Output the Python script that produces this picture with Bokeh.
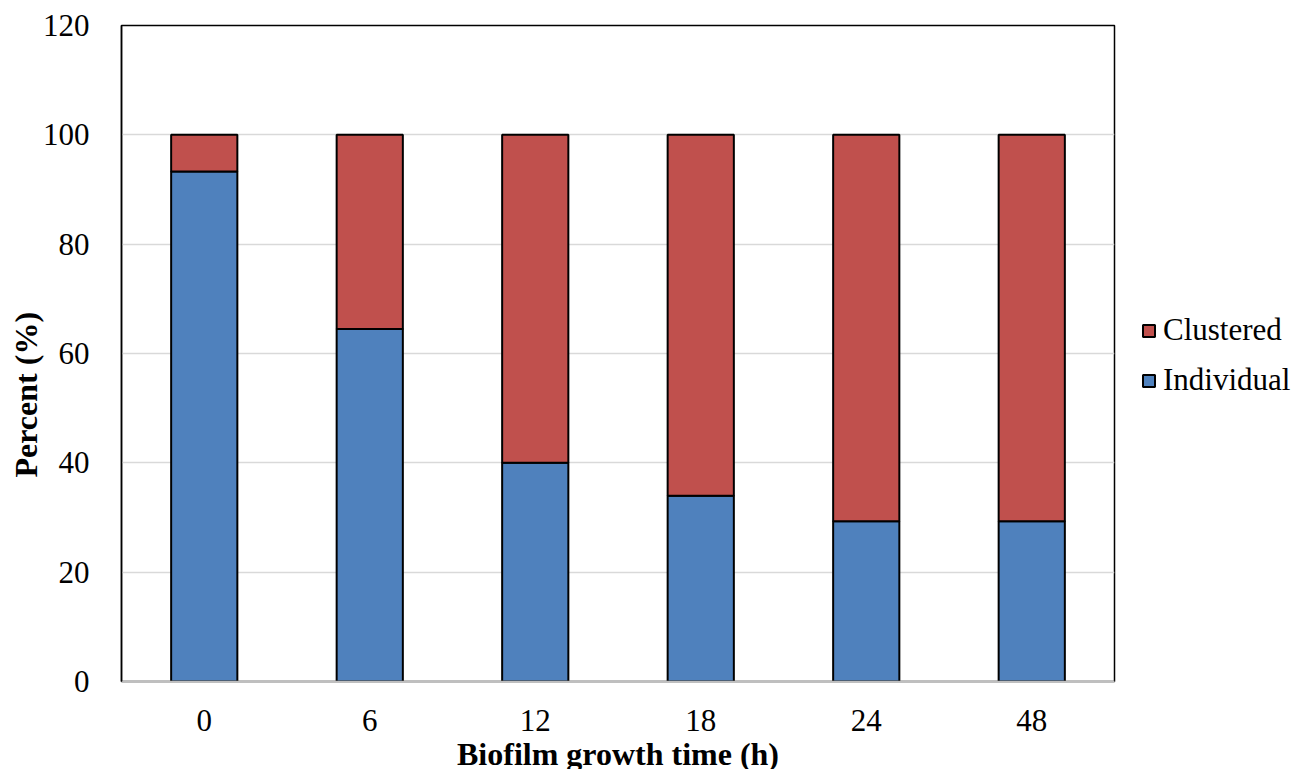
from bokeh.plotting import figure
from bokeh.models import (ColumnDataSource, FactorRange, Range1d, FixedTicker,
                          Legend, LegendItem, Title)
from bokeh.embed import file_html
from bokeh.resources import INLINE

# Biofilm growth times (h) and share of cells in each state (%)
times = ["0", "6", "12", "18", "24", "48"]
individual = [93.3, 64.5, 40.0, 34.0, 29.3, 29.3]
clustered = [6.7, 35.5, 60.0, 66.0, 70.7, 70.7]
y_ticks = [0, 20, 40, 60, 80, 100, 120]

BLUE = "#4F81BD"
RED = "#C0504D"
FONT = "Liberation Serif"

source = ColumnDataSource(dict(time=times, Individual=individual, Clustered=clustered))

p = figure(
    frame_width=993, frame_height=656,
    x_range=FactorRange(*times, range_padding=0),
    y_range=Range1d(0, 120),
    output_backend="svg", toolbar_location=None, tools="",
    min_border_left=121, min_border_right=187,
    min_border_top=25, min_border_bottom=88,
)
p.background_fill_color = "white"
p.border_fill_color = "white"
p.outline_line_color = "black"
p.outline_line_width = 1.5

stack = p.vbar_stack(["Individual", "Clustered"], x="time", width=0.4,
                     source=source, color=[BLUE, RED],
                     line_color="black", line_width=2)

# Axes
p.yaxis.ticker = FixedTicker(ticks=y_ticks)
p.yaxis.axis_line_color = "black"
p.yaxis.axis_line_width = 1.5
p.xaxis.axis_line_color = "#BFBFBF"
p.xaxis.axis_line_width = 1.5
for ax in (p.xaxis, p.yaxis):
    ax.major_tick_line_color = None
    ax.minor_tick_line_color = None
    ax.major_label_text_font = FONT
    ax.major_label_text_font_size = "31px"
    ax.major_label_text_color = "black"
p.yaxis.major_label_standoff = 26
p.xaxis.major_label_standoff = 22

p.xaxis.axis_label = "Biofilm growth time (h)"
p.xaxis.axis_label_text_font = FONT
p.xaxis.axis_label_text_font_size = "32px"
p.xaxis.axis_label_text_font_style = "bold"
p.xaxis.axis_label_text_color = "black"
p.xaxis.axis_label_standoff = 2

p.xgrid.grid_line_color = None
p.ygrid.grid_line_color = "#D9D9D9"
p.ygrid.grid_line_width = 1.5
p.ygrid.ticker = FixedTicker(ticks=y_ticks)

# Vertical axis title, starting 204 px above the bottom of the frame
p.add_layout(Title(text="Percent (%)", align="left", offset=204,
                   text_font=FONT, text_font_size="32px", text_font_style="bold",
                   text_color="black", standoff=-9), "left")

legend = Legend(
    items=[LegendItem(label="Clustered", renderers=[stack[1]]),
           LegendItem(label="Individual", renderers=[stack[0]])],
    location=(27, 283),
    glyph_width=15, glyph_height=15, label_standoff=7,
    spacing=14, padding=0, margin=0,
    label_text_font=FONT, label_text_font_size="31px", label_text_color="black",
    border_line_color=None, background_fill_alpha=0,
)
p.add_layout(legend, "right")

open("out.html", "w").write(file_html(p, INLINE))
